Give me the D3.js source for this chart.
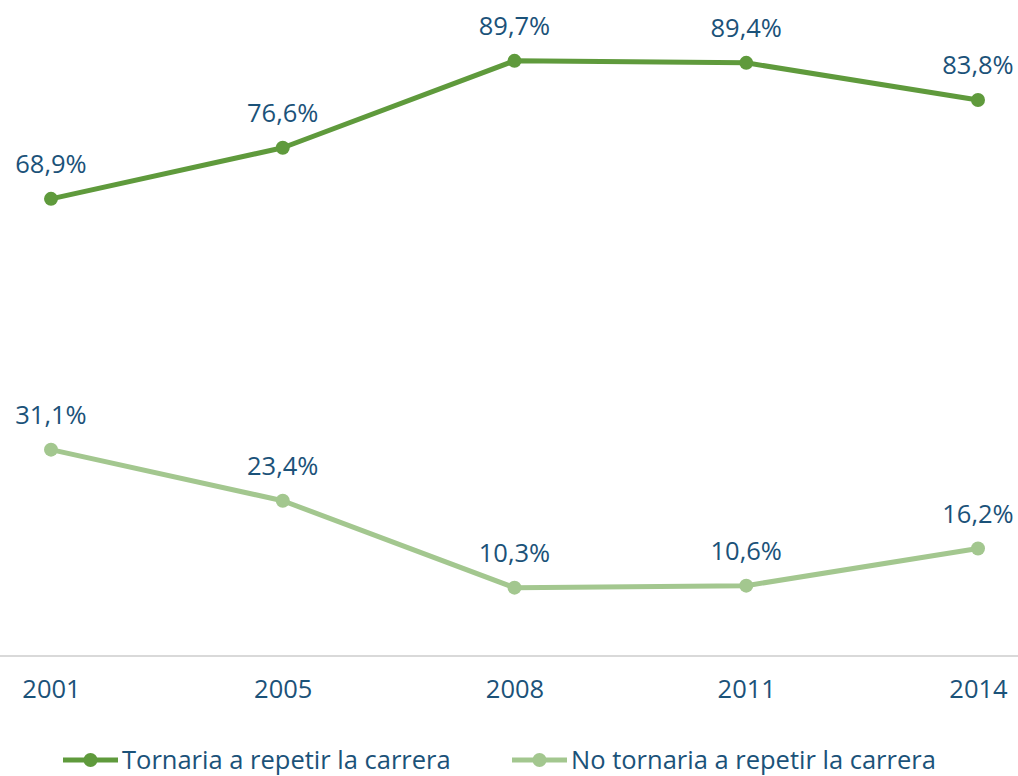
<!DOCTYPE html>
<html>
<head>
<meta charset="utf-8">
<script src="https://cdn.jsdelivr.net/npm/d3@7"></script>
<style>
  body { margin: 0; background: #fff; }
  text { font-family: "Open Sans", sans-serif; fill: #1b5279; }
</style>
</head>
<body>
<div id="chart"></div>
<script>
// data
var years = ["2001", "2005", "2008", "2011", "2014"];
var tornaria = [68.9, 76.6, 89.7, 89.4, 83.8];
var noTornaria = [31.1, 23.4, 10.3, 10.6, 16.2];
var seriesNames = ["Tornaria a repetir la carrera", "No tornaria a repetir la carrera"];
var seriesColors = ["#5f9a3c", "#a3c78f"];

var width = 1018, height = 776;

var svg = d3.select("#chart").append("svg")
    .attr("width", width)
    .attr("height", height);

// set the ranges
var x = d3.scalePoint()
          .domain(years)
          .range([51, 978]);
var y = d3.scaleLinear()
          .domain([0, 100])
          .range([656, -7.5]);

// axis line
svg.append("line")
    .attr("x1", 0).attr("x2", width)
    .attr("y1", y(0)).attr("y2", y(0))
    .style("stroke", "#d9d9d9")
    .style("stroke-width", 2);

// x axis labels
var xAxis = svg.append("g")
    .attr("transform", "translate(0," + y(0) + ")")
    .call(d3.axisBottom(x).tickSize(0).tickPadding(24));
xAxis.select(".domain").remove();
xAxis.selectAll("text")
    .style("font-size", "25.5px")
    .style("font-family", "'Open Sans', sans-serif")
    .attr("fill", "#1b5279");

var series = [tornaria, noTornaria];

var line = d3.line()
    .x(function(d, i) { return x(years[i]); })
    .y(function(d) { return y(d); });

series.forEach(function(values, s) {
  svg.append("path")
      .datum(values)
      .attr("d", line)
      .style("fill", "none")
      .style("stroke", seriesColors[s])
      .style("stroke-width", 5)
      .style("stroke-linejoin", "round");

  svg.selectAll(".dot" + s)
      .data(values)
    .enter().append("circle")
      .attr("cx", function(d, i) { return x(years[i]); })
      .attr("cy", function(d) { return y(d); })
      .attr("r", 7)
      .style("fill", seriesColors[s]);

  svg.selectAll(".lbl" + s)
      .data(values)
    .enter().append("text")
      .attr("x", function(d, i) { return x(years[i]); })
      .attr("y", function(d) { return y(d) - 26; })
      .style("text-anchor", "middle")
      .style("font-size", "25.5px")
      .text(function(d) { return d.toFixed(1).replace(".", ",") + "%"; });
});

// legend
var legendX = [63, 512];
seriesNames.forEach(function(name, s) {
  var g = svg.append("g")
      .attr("transform", "translate(" + legendX[s] + ",760)");
  g.append("line")
      .attr("x1", 0).attr("x2", 55)
      .style("stroke", seriesColors[s])
      .style("stroke-width", 5);
  g.append("circle")
      .attr("cx", 27.5)
      .attr("r", 7)
      .style("fill", seriesColors[s]);
  g.append("text")
      .attr("x", 59)
      .attr("dy", "0.35em")
      .style("font-size", "25.5px")
      .text(name);
});
</script>
</body>
</html>
